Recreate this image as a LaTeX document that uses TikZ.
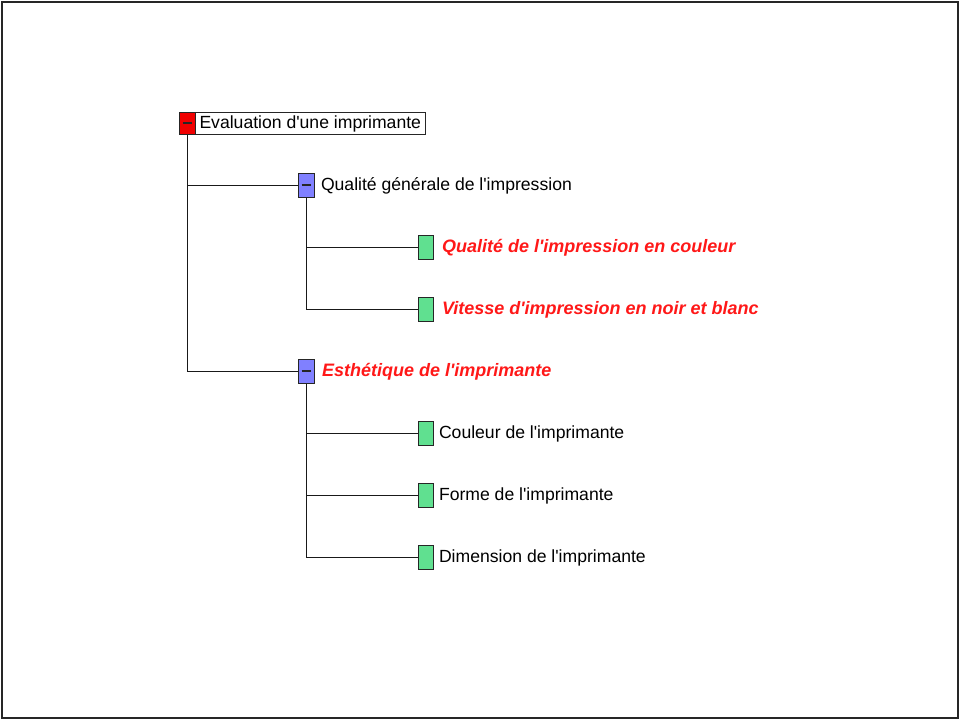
\documentclass[tikz,border=0pt]{standalone}
\usepackage{fontspec}
\setmainfont{Liberation Sans}
\usepackage{tikz}
\usetikzlibrary{positioning}
\definecolor{rootred}{RGB}{240,0,0}
\definecolor{critblue}{RGB}{128,128,255}
\definecolor{leafgreen}{RGB}{96,224,144}
\definecolor{critred}{RGB}{255,24,24}
\newcommand{\ap}{\textquotesingle}

\begin{document}
\begin{tikzpicture}[x=1pt,y=-1pt,line width=1pt,
    box/.style={draw=black!85,line width=1pt,minimum width=16pt,minimum height=23pt,
                inner sep=0pt},
    minus/.style={path picture={\draw[line width=1.2pt]
        ([xshift=3.5pt]path picture bounding box.west) --
        ([xshift=-3.5pt]path picture bounding box.east);}},
    rootbox/.style={box,fill=rootred,minus,minimum height=22pt},
    critbox/.style={box,fill=critblue,minus,minimum height=24pt},
    leaf/.style={box,fill=leafgreen,minimum width=15pt,minimum height=24pt},
    txt/.style={font=\fontsize{17.6}{20}\selectfont,inner sep=0pt,
                text height=15pt,text depth=3.5pt},
    hot/.style={txt,text=critred,font=\fontsize{18}{21}\selectfont\bfseries\itshape},
    link/.style={draw=black!90,line width=1pt}]

  % frame
  \useasboundingbox (0,0) rectangle (960,720);
  \draw[line width=2.5pt,black!85] (2,2) rectangle (958,718);

  % root
  \node[rootbox] at(187,123) (node0)
       [label={[name=node0t,txt,draw=black!85,fill=white,line width=1pt,minimum height=22pt,
                inner xsep=4pt,label distance=-0.5pt]right:Evaluation d\ap une imprimante}] {};

  % criteria
  \node[critbox] at(306,185) (node1) [label={[name=node1t,txt,label distance=6pt]right:Qualité générale de l\ap impression}] {};
  \node[critbox] at(306,371) (node2) [label={[name=node2t,hot,label distance=7pt]right:Esthétique de l\ap imprimante}] {};

  % sub-criteria
  \node[leaf] at(425.5,247) (node3) [label={[name=node3t,hot,label distance=8pt]right:Qualité de l\ap impression en couleur}] {};
  \node[leaf] at(425.5,309) (node4) [label={[name=node4t,hot,label distance=8pt]right:Vitesse d\ap impression en noir et blanc}] {};
  \node[leaf] at(425.5,433) (node5) [label={[name=node5t,txt,label distance=5pt]right:Couleur de l\ap imprimante}] {};
  \node[leaf] at(425.5,495) (node6) [label={[name=node6t,txt,label distance=5pt]right:Forme de l\ap imprimante}] {};
  \node[leaf] at(425.5,557) (node7) [label={[name=node7t,txt,label distance=5pt]right:Dimension de l\ap imprimante}] {};

  \path[link] (node0.south) |- (node1.west)
              (node0.south) |- (node2.west)
              (node1.south) |- (node3.west)
              (node1.south) |- (node4.west)
              (node2.south) |- (node5.west)
              (node2.south) |- (node6.west)
              (node2.south) |- (node7.west);

\end{tikzpicture}
\end{document}
